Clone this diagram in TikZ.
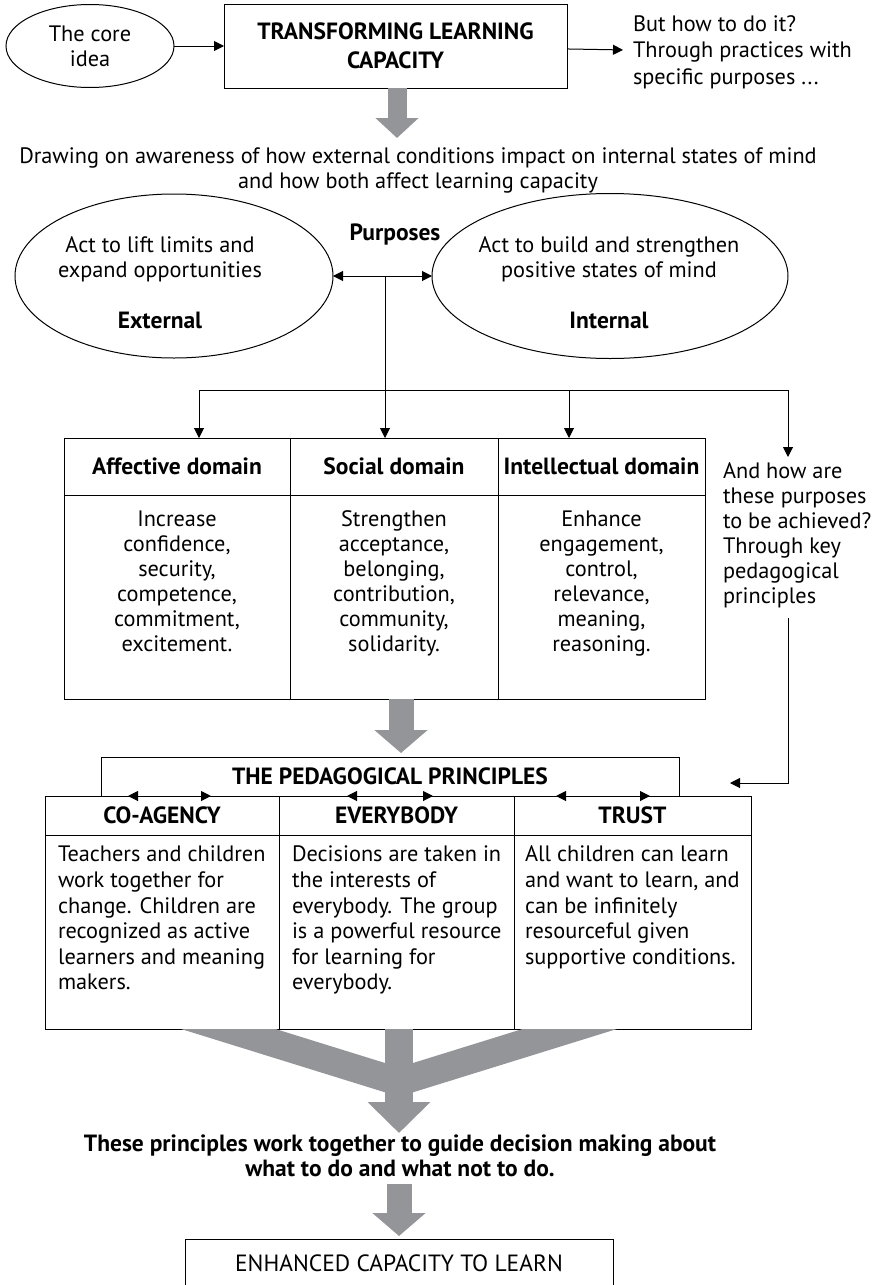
\documentclass[tikz,border=0pt]{standalone}
\usepackage{fontspec}
\setmainfont{PT Sans}
\usetikzlibrary{arrows,arrows.meta,shapes.geometric,positioning}

\definecolor{fatgray}{RGB}{147,149,152}

\begin{document}
\begin{tikzpicture}[x=1pt,y=-1pt,->,>={Triangle[length=10pt,width=10pt]},line width=1pt,
  every node/.style={font=\fontsize{22.3}{25}\selectfont,inner sep=0pt,outer sep=0pt},
  ell node/.style={ellipse,draw},
  rec node/.style={rectangle,draw,align=center,font=\fontsize{23.5}{29}\selectfont\bfseries},
  cell node/.style={rectangle,draw},
  head node/.style={font=\fontsize{23.5}{25}\selectfont\bfseries},
  txt node/.style={align=center},
  left node/.style={align=left},
  fat arrow/.style n args={3}{-{Triangle[length=#2,width=#3]},draw=fatgray,line width=#1},
  band/.style={-,draw=fatgray,line width=28pt}]

  \useasboundingbox (0,0) rectangle (874,1285);

  % top row
  \node[ell node,align=center,minimum width=168pt,minimum height=83pt] (core) at (90,46) {The core\\idea};
  \node[rec node,minimum width=343pt,minimum height=84pt] (tlc) at (395.5,46) {TRANSFORMING LEARNING\\CAPACITY};
  \node[left node,anchor=west,font=\fontsize{22.3}{26.5}\selectfont] (how) at (633,52) {But how to do it?\\Through practices with\\specific purposes ...};

  \path (core) edge (tlc)
        (tlc) edge [shorten >=10pt] (how);

  \node[txt node] (drw) at (418,170) {Drawing on awareness of how external conditions impact on internal states of mind\\and how both affect learning capacity};

  % purposes
  \node[ell node,minimum width=318pt,minimum height=164pt] (ext) at (174,276) {};
  \node[ell node,minimum width=356pt,minimum height=165pt] (int) at (610,276) {};
  \node[txt node] (extt) at (160,259) {Act to lift limits and\\expand opportunities};
  \node[txt node] (intt) at (609,259) {Act to build and strengthen\\positive states of mind};
  \node[head node] (extl) at (160,320) {External};
  \node[head node] (intl) at (609,320) {Internal};
  \node[head node] (purp) at (395,235) {Purposes};

  \path[<->] (ext) edge (int);

  % domains
  \node[cell node,head node,anchor=north west,minimum width=226pt,minimum height=57pt] (affh) at (64,438) {Affective domain};
  \node[cell node,head node,anchor=north west,minimum width=208pt,minimum height=57pt] (soch) at (290,438) {Social domain};
  \node[cell node,head node,anchor=north west,minimum width=207pt,minimum height=57pt] (inth) at (498,438) {Intellectual domain};
  \node[cell node,minimum width=226pt,minimum height=204pt,below=0pt of affh] (affb) {};
  \node[cell node,minimum width=208pt,minimum height=204pt,below=0pt of soch] (socb) {};
  \node[cell node,minimum width=207pt,minimum height=204pt,below=0pt of inth] (intb) {};
  \node[txt node,below=16pt of affb.north] (afft) {Increase\\confidence,\\security,\\competence,\\commitment,\\excitement.};
  \node[txt node,below=16pt of socb.north] (soct) {Strengthen\\acceptance,\\belonging,\\contribution,\\community,\\solidarity.};
  \node[txt node,below=16pt of intb.north] (intt2) {Enhance\\engagement,\\control,\\relevance,\\meaning,\\reasoning.};

  \node[left node,anchor=north west] (ahow) at (723,463) {And how are\\these purposes\\to be achieved?\\Through key\\pedagogical\\principles};

  \coordinate (mid) at (385,276);
  \coordinate (brl) at (199,390);
  \coordinate (brm) at (569,390);
  \coordinate (brr) at (788,390);
  \coordinate (brd) at (788,457);
  \draw (mid) -- (mid |- soch.north);
  \draw (brr) -- (brl) -- (brl |- affh.north);
  \draw (brm) -- (brm |- inth.north);
  \draw (brr) -- (brd);

  % principles
  \node[rec node,anchor=north west,minimum width=578pt,minimum height=39pt,font=\fontsize{23.5}{25}\selectfont\bfseries] (tpp) at (101,757) {THE PEDAGOGICAL PRINCIPLES};
  \node[cell node,head node,anchor=north west,minimum width=234pt,minimum height=39pt] (coh) at (45,796) {CO-AGENCY};
  \node[cell node,head node,anchor=north west,minimum width=235pt,minimum height=39pt] (evh) at (279,796) {EVERYBODY};
  \node[cell node,head node,anchor=north west,minimum width=237pt,minimum height=39pt] (trh) at (514,796) {TRUST};
  \node[cell node,minimum width=234pt,minimum height=194pt,below=0pt of coh] (cob) {};
  \node[cell node,minimum width=235pt,minimum height=194pt,below=0pt of evh] (evb) {};
  \node[cell node,minimum width=237pt,minimum height=194pt,below=0pt of trh] (trb) {};
  \node[left node,font=\fontsize{22.3}{25.6}\selectfont,below right=11pt and 13pt of cob.north west] (cot) {Teachers and children\\work together for\\change. Children are\\recognized as active\\learners and meaning\\makers.};
  \node[left node,font=\fontsize{22.3}{25.6}\selectfont,below right=11pt and 13pt of evb.north west] (evt) {Decisions are taken in\\the interests of\\everybody. The group\\is a powerful resource\\for learning for\\everybody.};
  \node[left node,font=\fontsize{22.3}{25.6}\selectfont,below right=11pt and 11pt of trb.north west] (trt) {All children can learn\\and want to learn, and\\can be infinitely\\resourceful given\\supportive conditions.};

  \coordinate (a1) at (128,796);
  \coordinate (b1) at (211,796);
  \coordinate (a2) at (347,796);
  \coordinate (b2) at (433,796);
  \coordinate (a3) at (556,796);
  \coordinate (b3) at (650,796);
  \draw[<->] (a1) -- (b1);
  \draw[<->] (a2) -- (b2);
  \draw[<->] (a3) -- (b3);

  \coordinate (fbt) at (788,618);
  \coordinate (fbe) at (730,783);
  \draw (fbt) |- (fbe);

  % bottom
  \node[txt node,font=\fontsize{23.5}{25}\selectfont\bfseries] (tp) at (400,1155.5) {These principles work together to guide decision making about\\what to do and what not to do.};
  \node[rec node,font=\fontsize{23.5}{25}\selectfont,minimum width=428pt,minimum height=48pt] (ecl) at (399,1263) {ENHANCED CAPACITY TO LEARN};

  % grey arrows
  \coordinate (t1) at (397,138);
  \coordinate (t2) at (401,753);
  \coordinate (t3) at (399,1133);
  \coordinate (s4) at (399,1184);
  \coordinate (t4) at (399,1236);
  \coordinate (jn) at (399,1082);
  \coordinate (bl) at (128.5,998);
  \coordinate (br) at (669.5,998);
  \draw[fat arrow={19pt}{20pt}{42pt}] (tlc.south -| t1) -- (t1);
  \draw[fat arrow={25pt}{23pt}{52pt}] (socb.south -| t2) -- (t2);
  \begin{scope}
    \clip (0,1029.5) rectangle (874,1140);
    \draw[band] (bl) -- (jn);
    \draw[band] (br) -- (jn);
    \draw[fat arrow={28pt}{31pt}{61pt}] (cob.south -| t3) -- (t3);
  \end{scope}
  \draw[fat arrow={25pt}{23pt}{52pt}] (s4) -- (t4);

\end{tikzpicture}
\end{document}
